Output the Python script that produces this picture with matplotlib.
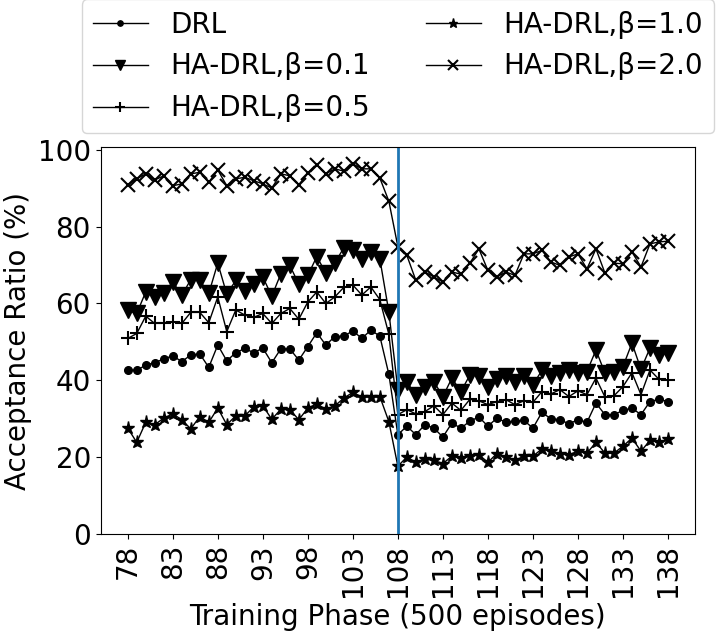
import matplotlib
matplotlib.use("Agg")
import matplotlib.pyplot as plt
import numpy as np

phases = list(range(78, 139))
xticks = list(range(78, 139, 5))

drl = [42.7, 42.6, 44.0, 44.6, 45.6, 46.4, 44.9, 46.6, 46.9, 43.4, 49.2, 45.1, 47.2, 48.3, 47.2,
       48.4, 44.6, 48.2, 48.2, 45.3, 48.8, 52.4, 49.2, 51.4, 51.5, 52.9, 50.9, 53.1, 51.5, 41.6,
       25.9, 28.1, 25.9, 28.5, 27.6, 25.3, 28.9, 27.6, 29.4, 30.5, 28.1, 30.2, 29.1, 29.4, 29.6,
       27.6, 31.7, 30.0, 29.8, 28.7, 29.8, 29.1, 34.1, 31.1, 31.1, 32.2, 32.8, 31.1, 34.5, 35.1, 34.5]
b01 = [58.2, 57.4, 63.0, 61.7, 62.7, 65.6, 62.1, 66.2, 66.0, 62.6, 70.5, 62.4, 66.0, 63.2, 65.1,
       66.9, 61.9, 67.7, 69.9, 65.0, 67.3, 72.2, 67.9, 70.5, 74.5, 73.8, 71.6, 73.4, 71.6, 57.8,
       37.6, 39.5, 36.3, 38.4, 39.7, 35.8, 40.6, 37.1, 41.4, 41.2, 38.4, 40.3, 41.2, 39.5, 41.2,
       38.9, 42.6, 41.2, 41.9, 42.7, 41.9, 42.3, 47.9, 41.9, 42.3, 43.6, 49.7, 42.9, 48.4, 46.6, 47.1]
b05 = [50.9, 52.2, 56.7, 54.8, 55.0, 55.3, 54.8, 57.7, 57.7, 55.0, 61.7, 52.7, 58.3, 57.0, 56.4,
       57.4, 54.8, 57.4, 58.7, 55.9, 60.4, 63.0, 60.0, 61.7, 64.2, 64.8, 62.2, 64.3, 61.0, 52.0,
       31.1, 32.4, 31.3, 31.9, 33.4, 31.1, 34.1, 32.2, 35.1, 34.7, 33.7, 34.5, 35.0, 33.7, 34.7,
       34.3, 37.1, 36.5, 37.6, 35.8, 37.3, 36.3, 40.6, 35.7, 36.0, 38.4, 42.0, 36.3, 42.7, 40.3, 40.0]
b10 = [27.6, 23.9, 29.1, 28.5, 30.2, 31.3, 29.8, 27.4, 30.6, 29.1, 32.8, 28.5, 30.8, 30.8, 33.1,
       33.4, 29.9, 32.5, 32.4, 29.8, 32.8, 33.9, 32.5, 33.4, 35.4, 36.9, 35.7, 35.8, 35.8, 29.3,
       17.7, 20.1, 18.7, 19.6, 19.2, 18.4, 20.3, 19.8, 20.4, 20.7, 18.7, 21.0, 20.1, 19.2, 20.3,
       20.3, 22.2, 21.6, 21.0, 20.7, 21.6, 21.1, 23.9, 21.1, 21.1, 22.9, 25.0, 21.6, 24.4, 23.9, 24.8]
b20 = [90.9, 92.4, 93.7, 92.1, 93.2, 90.6, 91.1, 93.7, 94.1, 91.5, 94.7, 90.6, 92.4, 92.8, 91.9,
       91.1, 90.0, 93.7, 93.2, 90.9, 93.8, 96.1, 93.7, 95.0, 94.4, 96.3, 95.0, 95.0, 92.6, 86.6,
       74.8, 72.5, 66.0, 68.2, 66.9, 65.6, 68.2, 67.6, 70.5, 74.2, 68.6, 66.9, 68.2, 67.3, 72.9,
       72.9, 73.8, 70.8, 69.9, 72.1, 72.9, 69.0, 74.2, 67.9, 70.5, 70.3, 73.4, 69.5, 75.5, 76.0, 76.2]

labels = ["DRL", "HA-DRL,β=0.1", "HA-DRL,β=0.5", "HA-DRL,β=1.0", "HA-DRL,β=2.0"]
series = [drl, b01, b05, b10, b20]
markers = ["o", "v", "+", "*", "x"]
msizes = [5.5, 11, 10, 9.5, 10]

plt.rcParams['font.family'] = ['DejaVu Sans']
fig = plt.figure(figsize=(7.22, 6.36), dpi=100)
ax = fig.add_axes([0.1395, 0.1599, 0.8231, 0.6085])

for lab, s, m, ms in zip(labels, series, markers, msizes):
    ax.plot(phases, s, color="black", marker=m, markersize=ms, linewidth=1,
            markeredgewidth=1.5 if m in "+x" else 1, label=lab)

ax.axvline(108, color="C0", linewidth=2)
ax.set_xlim(75, 141)
ax.set_ylim(0, 100.6)
ax.set_xticks(xticks)
ax.set_xticklabels([str(t) for t in xticks], rotation=90)
ax.tick_params(labelsize=20)
ax.set_yticks([0, 20, 40, 60, 80, 100])
ax.set_xlabel("Training Phase (500 episodes)", fontsize=20)
ax.set_ylabel("Acceptance Ratio (%)", fontsize=20)
ax.legend(loc="lower center", bbox_to_anchor=(0.5, 1.0), ncol=2, fontsize=20,
          markerscale=0.7)

fig.savefig("out.png", dpi=100)
